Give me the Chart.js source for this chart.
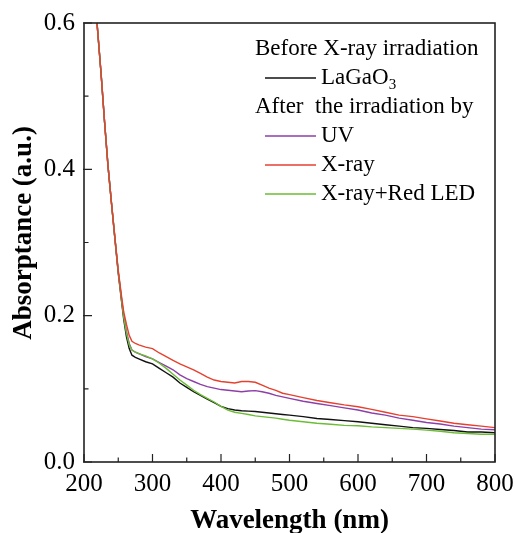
<!DOCTYPE html>
<html>
<head>
<meta charset="utf-8">
<title>Absorptance spectra</title>
<script src="https://cdn.jsdelivr.net/npm/chart.js@4/dist/chart.umd.min.js"></script>
<style>
  html, body { margin: 0; padding: 0; background: #fff; }
  canvas { display: block; }
</style>
</head>
<body>
<canvas id="absChart" width="515" height="533"></canvas>
<script>
// wavelengths (nm) shared by all four spectra
const wavelengths = [219, 225, 230, 235, 240, 245, 250, 255, 258, 262, 266, 270, 275, 280, 290, 300,
  310, 320, 330, 340, 350, 360, 370, 380, 390, 400, 410, 420, 430, 440, 450, 460, 470, 480, 490, 500,
  520, 540, 560, 580, 600, 620, 640, 660, 680, 700, 720, 740, 760, 780, 800];

// absorptance values
const lagaoAbs = [0.600, 0.530, 0.465, 0.405, 0.355, 0.306, 0.258, 0.218, 0.195, 0.171, 0.155, 0.146, 0.143, 0.141, 0.137, 0.134,
  0.128, 0.122, 0.116, 0.108, 0.102, 0.096, 0.091, 0.086, 0.081, 0.076, 0.073, 0.071, 0.070, 0.0695, 0.069, 0.068, 0.067, 0.066, 0.065, 0.064,
  0.062, 0.0595, 0.058, 0.0565, 0.055, 0.053, 0.051, 0.049, 0.047, 0.046, 0.0445, 0.043, 0.041, 0.041, 0.040];
const uvAbs = [0.600, 0.530, 0.465, 0.405, 0.355, 0.307, 0.260, 0.222, 0.200, 0.178, 0.162, 0.153, 0.150, 0.148, 0.144, 0.141,
  0.136, 0.131, 0.126, 0.119, 0.114, 0.110, 0.106, 0.103, 0.101, 0.099, 0.098, 0.097, 0.096, 0.097, 0.0975, 0.096, 0.094, 0.091, 0.089, 0.087,
  0.083, 0.080, 0.077, 0.074, 0.071, 0.067, 0.064, 0.060, 0.057, 0.054, 0.052, 0.049, 0.047, 0.045, 0.044];
const xrayAbs = [0.600, 0.530, 0.465, 0.405, 0.355, 0.308, 0.262, 0.225, 0.205, 0.188, 0.173, 0.165, 0.162, 0.160, 0.157, 0.155,
  0.149, 0.144, 0.139, 0.134, 0.130, 0.126, 0.121, 0.116, 0.112, 0.110, 0.109, 0.108, 0.110, 0.110, 0.109, 0.105, 0.101, 0.098, 0.094, 0.092,
  0.088, 0.084, 0.081, 0.078, 0.0755, 0.072, 0.068, 0.064, 0.062, 0.059, 0.056, 0.053, 0.051, 0.049, 0.047];
const xrayRedAbs = [0.600, 0.530, 0.465, 0.405, 0.355, 0.307, 0.260, 0.220, 0.198, 0.176, 0.160, 0.153, 0.150, 0.148, 0.145, 0.141,
  0.135, 0.128, 0.120, 0.112, 0.105, 0.098, 0.092, 0.087, 0.082, 0.076, 0.071, 0.068, 0.0665, 0.065, 0.063, 0.062, 0.061, 0.060, 0.0585, 0.057,
  0.055, 0.053, 0.0515, 0.050, 0.0495, 0.048, 0.047, 0.046, 0.045, 0.0435, 0.042, 0.040, 0.039, 0.038, 0.038];

const xTicks = [200, 300, 400, 500, 600, 700, 800];
const yTicks = [0.0, 0.2, 0.4, 0.6];
const legendHeads = ['Before X-ray irradiation', 'After  the irradiation by'];
const yTitle = 'Absorptance (a.u.)';

const serif = 'Liberation Serif';
Chart.defaults.font.family = serif;
Chart.defaults.color = '#000';

function toPoints(ys) {
  return wavelengths.map((x, i) => ({ x: x, y: ys[i] }));
}

function makeSet(label, ys, color, order) {
  return {
    label: label,
    data: toPoints(ys),
    borderColor: color,
    backgroundColor: color,
    borderWidth: 1.4,
    pointRadius: 0,
    tension: 0,
    order: order
  };
}

const datasets = [
  makeSet('LaGaO\u2083', lagaoAbs, '#111111', 3),
  makeSet('UV', uvAbs, '#8c3fa6', 2),
  makeSet('X-ray', xrayAbs, '#e6412f', 0),
  makeSet('X-ray+Red LED', xrayRedAbs, '#6cbc35', 1)
];

// rows of the legend: a heading, or a dataset index
const legendRows = [{ head: 0 }, { ds: 0 }, { head: 1 }, { ds: 1 }, { ds: 2 }, { ds: 3 }];

function drawRich(ctx, text, x, y, size) {
  // draws text, turning unicode subscript digits into lowered small digits
  let cx = x;
  for (const ch of text) {
    const code = ch.charCodeAt(0);
    if (code >= 0x2080 && code <= 0x2089) {
      ctx.font = Math.round(size * 0.65) + 'px "' + serif + '"';
      const d = String(code - 0x2080);
      ctx.fillText(d, cx, y + size * 0.3);
      cx += ctx.measureText(d).width;
    } else {
      ctx.font = size + 'px "' + serif + '"';
      ctx.fillText(ch, cx, y);
      cx += ctx.measureText(ch).width;
    }
  }
}

const framePlugin = {
  id: 'frame',
  afterDatasetsDraw(chart) {
    const ctx = chart.ctx;
    const a = chart.chartArea;
    const xs = chart.scales.x, ys = chart.scales.y;
    ctx.save();
    ctx.strokeStyle = '#222';
    ctx.lineWidth = 1.6;
    ctx.strokeRect(a.left, a.top, a.right - a.left, a.bottom - a.top);

    // inward ticks, minor ones halfway between the labelled ones
    ctx.lineWidth = 1.2;
    ctx.beginPath();
    xTicks.forEach((v, i) => {
      const px = xs.getPixelForValue(v);
      ctx.moveTo(px, a.bottom); ctx.lineTo(px, a.bottom - 8);
      if (i < xTicks.length - 1) {
        const mx = xs.getPixelForValue((v + xTicks[i + 1]) / 2);
        ctx.moveTo(mx, a.bottom); ctx.lineTo(mx, a.bottom - 4.5);
      }
    });
    yTicks.forEach((v, i) => {
      const py = ys.getPixelForValue(v);
      ctx.moveTo(a.left - 1, py); ctx.lineTo(a.left + 8, py);
      if (i < yTicks.length - 1) {
        const my = ys.getPixelForValue((v + yTicks[i + 1]) / 2);
        ctx.moveTo(a.left, my); ctx.lineTo(a.left + 4.5, my);
      }
    });
    ctx.stroke();

    // y axis title, sitting a little above the middle as in the original
    ctx.fillStyle = '#000';
    ctx.font = 'bold 27px "' + serif + '"';
    ctx.textAlign = 'center';
    ctx.textBaseline = 'middle';
    ctx.translate(24, 233);
    ctx.rotate(-Math.PI / 2);
    ctx.fillText(yTitle, 0, 0);
    ctx.setTransform(1, 0, 0, 1, 0, 0);
    ctx.textAlign = 'left';

    // legend with its two headings
    const size = 23;
    let y = 49;
    legendRows.forEach(row => {
      if (row.head !== undefined) {
        ctx.font = size + 'px "' + serif + '"';
        ctx.fillText(legendHeads[row.head], 255, y);
      } else {
        const ds = chart.data.datasets[row.ds];
        ctx.strokeStyle = ds.borderColor;
        ctx.lineWidth = 1.5;
        ctx.beginPath();
        ctx.moveTo(265, y); ctx.lineTo(316, y);
        ctx.stroke();
        drawRich(ctx, ds.label, 321, y, size);
      }
      y += 29;
    });
    ctx.restore();
  }
};

new Chart(document.getElementById('absChart'), {
  type: 'line',
  data: { datasets: datasets },
  plugins: [framePlugin],
  options: {
    responsive: false,
    animation: false,
    layout: { padding: { top: 23, right: 20, left: 0, bottom: 0 } },
    plugins: { legend: { display: false }, tooltip: { enabled: false } },
    scales: {
      x: {
        type: 'linear',
        min: 200,
        max: 800,
        afterBuildTicks(scale) { scale.ticks = xTicks.map(v => ({ value: v })); },
        afterFit(scale) {
          scale.height = 71;
          scale.paddingLeft = 0; scale.paddingRight = 0;
        },
        ticks: { font: { size: 25 }, padding: 7, maxRotation: 0, color: '#000' },
        grid: { display: false, drawTicks: false },
        border: { display: false },
        title: {
          display: true,
          text: 'Wavelength (nm)',
          font: { size: 27, weight: 'bold', lineHeight: 0.85 },
          padding: { top: 0, bottom: 0 }
        }
      },
      y: {
        min: 0,
        max: 0.6,
        afterBuildTicks(scale) { scale.ticks = yTicks.map(v => ({ value: v })); },
        afterFit(scale) {
          scale.width = 84;
          scale.paddingTop = 0; scale.paddingBottom = 0;
        },
        ticks: {
          font: { size: 25 },
          padding: 9,
          color: '#000',
          callback: v => v.toFixed(1)
        },
        grid: { display: false, drawTicks: false },
        border: { display: false },
        title: { display: false }
      }
    }
  }
});
</script>
</body>
</html>
